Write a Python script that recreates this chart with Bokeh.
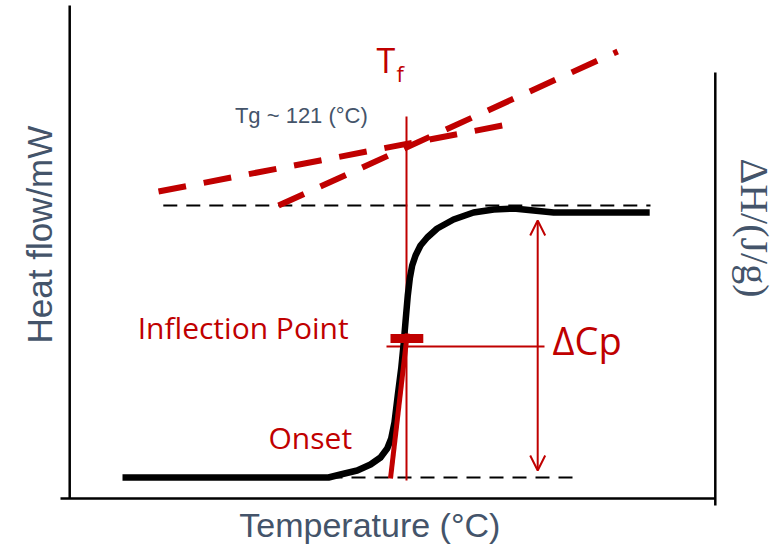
from math import pi
from bokeh.plotting import figure
from bokeh.models import Range1d, Arrow, OpenHead
from bokeh.core.properties import value
from bokeh.embed import file_html
from bokeh.resources import INLINE

# ---------------- data (temperature in °C, heat flow in relative mW) ----------------
curve_T = [85.5, 111.25, 112.75, 114.84, 116.5, 117.75, 118.59, 119.09, 119.5, 119.91,
           120.34, 120.66, 120.91, 121.16, 121.41, 121.71, 122.13, 122.75, 123.59, 124.84,
           126.88, 129.38, 131.9, 134.4, 136.9, 139.4, 144.9, 151.4]
curve_H = [0.0, 0.0, 0.03, 0.07, 0.13, 0.20, 0.29, 0.39, 0.55, 0.82,
           1.09, 1.35, 1.59, 1.82, 1.99, 2.12, 2.22, 2.32, 2.40, 2.49,
           2.58, 2.65, 2.68, 2.69, 2.67, 2.65, 2.65, 2.65]

upper_base_T = [90.6, 151.5]
upper_base_H = [2.72, 2.72]
lower_base_T = [111.25, 142.1]
lower_base_H = [0.0, 0.0]

glass_ext_T = [90.0, 133.0]
glass_ext_H = [2.86, 3.52]
liquid_ext_T = [105.0, 147.4]
liquid_ext_H = [2.72, 4.26]

Tf = 121.0
Tf_line_H = [3.61, -0.03]

marker_T = [119.0, 123.1]
marker_H = [1.39, 1.39]
inflect_line_T = [118.5, 138.25]
inflect_line_H = [1.31, 1.31]
onset_tangent_T = [119.0, 121.1]
onset_tangent_H = [-0.01, 1.44]

dcp_T = 137.4
dcp_H = [2.57, 0.07]

# axes frame
left_axis_T = [78.9, 78.9]
left_axis_H = [4.72, -0.21]
bottom_axis_T = [77.75, 159.6]
bottom_axis_H = [-0.21, -0.21]
right_axis_T = [159.6, 159.6]
right_axis_H = [4.05, -0.28]

RED = "#C00000"
SLATE = "#44546A"

p = figure(width=778, height=552, x_range=Range1d(70.25, 167.5), y_range=Range1d(-0.75, 4.77),
           output_backend="svg", toolbar_location=None, min_border=0,
           x_axis_type=None, y_axis_type=None)
p.grid.visible = False
p.outline_line_color = None
p.background_fill_color = "white"
p.border_fill_color = "white"

# axes lines
p.line(left_axis_T, left_axis_H, line_color="black", line_width=2.5)
p.line(bottom_axis_T, bottom_axis_H, line_color="black", line_width=2.5)
p.line(right_axis_T, right_axis_H, line_color="black", line_width=2.5)

# black dashed baselines
p.line(upper_base_T, upper_base_H, line_color="black", line_width=1.8, line_dash="14 9")
p.line(lower_base_T, lower_base_H, line_color="black", line_width=1.8, line_dash="14 9")

# red dashed extrapolations
p.line(glass_ext_T, glass_ext_H, line_color=RED, line_width=6, line_dash="28 18")
p.line(liquid_ext_T, liquid_ext_H, line_color=RED, line_width=6, line_dash="28 18")

# Tf vertical line
p.line([Tf, Tf], Tf_line_H, line_color=RED, line_width=2)

# inflection horizontal line
p.line(inflect_line_T, inflect_line_H, line_color=RED, line_width=2)

# DSC curve
p.line(curve_T, curve_H, line_color="black", line_width=6.5, line_join="round")

# onset tangent
p.line(onset_tangent_T, onset_tangent_H, line_color=RED, line_width=5)

# inflection marker
p.line(marker_T, marker_H, line_color=RED, line_width=9)

# delta Cp arrow
p.add_layout(Arrow(x_start=dcp_T, y_start=dcp_H[1], x_end=dcp_T, y_end=dcp_H[0],
                   line_color=RED, line_width=2,
                   start=OpenHead(size=15, line_color=RED, line_width=2),
                   end=OpenHead(size=15, line_color=RED, line_width=2)))

# texts
def txt(x, y, s, font, size, color, angle=0.0):
    p.text(x=[x], y=[y], text=[s], text_font=value(font), text_font_size=size,
           text_color=color, text_align="left", text_baseline="alphabetic", angle=angle)

txt(99.55, 3.62, "Tg ~ 121 (°C)", "Liberation Sans", "22px", SLATE)
txt(117.25, 4.18, "T", "Open Sans", "34px", RED)
txt(119.75, 4.05, "f", "Open Sans", "22px", RED)
txt(87.4, 1.50, "Inflection Point", "Open Sans", "30px", RED)
txt(103.75, 0.40, "Onset", "Open Sans", "30px", RED)
txt(139.25, 1.38, "ΔCp", "Open Sans", "38px", RED)
txt(75.1, 1.34, "Heat flow/mW", "Liberation Sans", "35px", SLATE, angle=pi / 2)
txt(100.1, -0.47, "Temperature (°C)", "Liberation Sans", "34px", SLATE)
txt(164.5, 3.19, "ΔH/(J/g)", "Liberation Serif", "40px", SLATE, angle=-pi / 2)

open("out.html", "w").write(file_html(p, INLINE))
